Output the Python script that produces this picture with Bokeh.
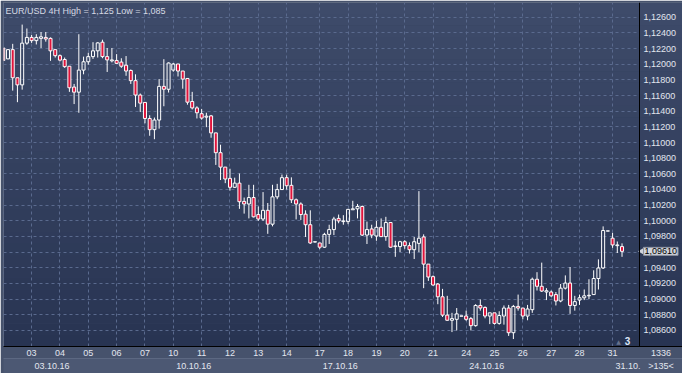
import numpy as np
from bokeh.plotting import figure
from bokeh.models import (Range1d, FixedTicker, BoxAnnotation, Label, Span,
                          ColumnDataSource, LinearAxis)
from bokeh.embed import file_html
from bokeh.resources import INLINE

title_text = "EUR/USD 4H High = 1,125 Low = 1,085"

open_ = [1.12207,1.12068,1.12186,1.11827,1.11736,1.12269,1.12342,1.12301,1.12330,1.12342,
 1.12330,1.12186,1.12109,1.12060,1.11974,1.11708,1.11643,1.11925,1.12031,1.12097,
 1.12171,1.12281,1.12097,1.12043,1.12048,1.12027,1.11987,1.11920,1.11790,1.11606,
 1.11512,1.11307,1.11164,1.11287,1.11717,1.11680,1.11925,1.12003,1.11913,1.11818,
 1.11524,1.11442,1.11368,1.11324,1.11340,1.11123,1.10870,1.10686,1.10542,1.10428,
 1.10481,1.10248,1.10215,1.10297,1.10080,1.10023,1.10134,1.09957,1.10306,1.10399,
 1.10551,1.10453,1.10269,1.10215,1.10085,1.09950,1.09729,1.09717,1.09663,1.09827,
 1.09888,1.10031,1.09990,1.09990,1.10141,1.10153,1.10183,1.09818,1.09896,1.09806,
 1.09917,1.09798,1.09978,1.09671,1.09671,1.09733,1.09683,1.09631,1.09712,1.09794,
 1.09447,1.09287,1.09193,1.09030,1.08796,1.08730,1.08742,1.08782,1.08784,1.08751,
 1.08661,1.08919,1.08894,1.08784,1.08825,1.08690,1.08784,1.08886,1.08571,1.08907,
 1.08886,1.08784,1.08865,1.09254,1.09164,1.09091,1.09091,1.09058,1.08976,1.09140,
 1.09205,1.08919,1.08988,1.09017,1.09042,1.09058,1.09263,1.09398,1.09868,1.09778,
 1.09683,1.09671]

high = [1.12207,1.12190,1.12260,1.11827,1.12506,1.12456,1.12374,1.12383,1.12411,1.12411,
 1.12342,1.12186,1.12125,1.12085,1.11974,1.11748,1.12383,1.12097,1.12146,1.12281,
 1.12281,1.12313,1.12207,1.12207,1.12129,1.12076,1.12104,1.11933,1.11871,1.11626,
 1.11512,1.11348,1.11319,1.11810,1.12064,1.12023,1.12015,1.12003,1.11913,1.11818,
 1.11647,1.11463,1.11429,1.11380,1.11352,1.11123,1.10972,1.10686,1.10665,1.10551,
 1.10604,1.10297,1.10460,1.10460,1.10183,1.10367,1.10227,1.10460,1.10472,1.10591,
 1.10591,1.10555,1.10285,1.10236,1.10134,1.10134,1.09733,1.09717,1.09847,1.09950,
 1.10051,1.10080,1.10072,1.10153,1.10256,1.10215,1.10195,1.09990,1.09950,1.09999,
 1.10031,1.10051,1.09978,1.09745,1.09745,1.09753,1.09724,1.09794,1.10379,1.09827,
 1.09447,1.09303,1.09205,1.09131,1.09042,1.08825,1.08886,1.08786,1.08853,1.08772,
 1.08935,1.08996,1.08907,1.08825,1.08825,1.08845,1.08919,1.08926,1.08926,1.09058,
 1.08886,1.08926,1.09275,1.09344,1.09466,1.09140,1.09110,1.09091,1.09193,1.09303,
 1.09410,1.09042,1.09058,1.09123,1.09254,1.09368,1.09508,1.09929,1.09872,1.09847,
 1.09736,1.09712]

low = [1.12048,1.12064,1.11663,1.11515,1.11675,1.12248,1.12272,1.12252,1.12207,1.12288,
 1.12043,1.12085,1.12036,1.11953,1.11647,1.11491,1.11380,1.11871,1.11994,1.12068,
 1.12085,1.12076,1.11901,1.12023,1.12003,1.11953,1.11852,1.11748,1.11454,1.11389,
 1.11245,1.11086,1.11042,1.11177,1.11463,1.11638,1.11904,1.11843,1.11687,1.11483,
 1.11422,1.11307,1.11291,1.11196,1.11061,1.10714,1.10521,1.10481,1.10386,1.10420,
 1.10153,1.10092,1.10031,1.10043,1.09999,1.09999,1.09834,1.09929,1.10276,1.10399,
 1.10399,1.10227,1.10018,1.10011,1.09794,1.09704,1.09724,1.09638,1.09655,1.09704,
 1.09818,1.09969,1.09950,1.09957,1.10141,1.10031,1.09806,1.09704,1.09778,1.09745,
 1.09794,1.09745,1.09655,1.09540,1.09601,1.09643,1.09582,1.09512,1.09601,1.09140,
 1.09233,1.09172,1.08935,1.08772,1.08723,1.08579,1.08600,1.08782,1.08723,1.08600,
 1.08649,1.08853,1.08755,1.08681,1.08674,1.08674,1.08674,1.08530,1.08490,1.08853,
 1.08742,1.08730,1.08825,1.09110,1.09091,1.08988,1.09030,1.08919,1.08960,1.09123,
 1.08812,1.08853,1.08926,1.08988,1.09000,1.09058,1.09123,1.09385,1.09868,1.09655,
 1.09589,1.09540]

close = [1.12048,1.12186,1.11827,1.11736,1.12269,1.12342,1.12301,1.12342,1.12350,1.12322,
 1.12171,1.12109,1.12052,1.11969,1.11699,1.11643,1.11925,1.12031,1.12097,1.12171,
 1.12272,1.12097,1.12055,1.12055,1.12011,1.11974,1.11913,1.11790,1.11606,1.11503,
 1.11307,1.11164,1.11287,1.11717,1.11680,1.12015,1.12003,1.11913,1.11810,1.11515,
 1.11442,1.11380,1.11312,1.11336,1.11123,1.10870,1.10686,1.10534,1.10428,1.10481,
 1.10244,1.10215,1.10297,1.10051,1.10023,1.10134,1.09957,1.10306,1.10399,1.10551,
 1.10448,1.10269,1.10215,1.10080,1.09950,1.09717,1.09733,1.09663,1.09827,1.09888,
 1.10023,1.09999,1.09999,1.10146,1.10153,1.10183,1.09818,1.09888,1.09818,1.09917,
 1.09798,1.09978,1.09663,1.09680,1.09733,1.09683,1.09631,1.09733,1.09778,1.09447,
 1.09282,1.09180,1.09030,1.08796,1.08730,1.08751,1.08812,1.08786,1.08742,1.08661,
 1.08919,1.08886,1.08784,1.08825,1.08690,1.08791,1.08886,1.08571,1.08907,1.08886,
 1.08784,1.08874,1.09254,1.09164,1.09103,1.09107,1.09042,1.08976,1.09140,1.09205,
 1.08919,1.08968,1.09017,1.09042,1.09049,1.09263,1.09398,1.09876,1.09872,1.09692,
 1.09692,1.09610]

day_tick_idx = [0, 6, 12, 18, 24, 30, 36, 42, 48, 54, 60, 67, 73, 79, 85, 91, 98, 104, 110, 116, 122, 129]
day_labels = ["30", "03", "04", "05", "06", "07", "10", "11", "12", "13", "14",
              "17", "18", "19", "20", "21", "24", "25", "26", "27", "28", "31"]
week_idx = [6, 36, 67, 98, 129]
week_labels = ["03.10.16", "10.10.16", "17.10.16", "24.10.16", "31.10."]
price_ticks = [1.086, 1.088, 1.090, 1.092, 1.094, 1.096, 1.098, 1.100, 1.102, 1.104,
               1.106, 1.108, 1.110, 1.112, 1.114, 1.116, 1.118, 1.120, 1.122, 1.124, 1.126]
price_labels = ["1,08600", "1,08800", "1,09000", "1,09200", "1,09400", "1,09600", "1,09800",
                "1,10000", "1,10200", "1,10400", "1,10600", "1,10800", "1,11000", "1,11200",
                "1,11400", "1,11600", "1,11800", "1,12000", "1,12200", "1,12400", "1,12600"]
last_price_label = "1,09610"
bar_count_label = "1336"
zoom_label = ">135<"
marker_label = "3"

# ---------------- layout ----------------
W, H = 682, 373
ML, MT, MB = 3, 2, 27
COL = 43                      # width of the price-scale column (inside the frame)
x0, x1 = 0.05, 134.7          # candle area
y0, y1 = 1.08395, 1.12788
CW = W - ML - COL             # candle area width in px
FH = H - MT - MB
ux = (x1 - x0) / CW
uy = (y1 - y0) / FH
xe = x1 + COL * ux            # frame right end (price column included)
FONT = "Liberation Sans"
TXT = "#e2e6ef"
BOTTOM_BG = "#46526c"

p = figure(width=W, height=H, x_range=Range1d(x0, xe), y_range=Range1d(y0, y1),
           y_axis_location="right", output_backend="svg", toolbar_location=None,
           min_border_left=ML, min_border_right=0, min_border_top=MT, min_border_bottom=MB,
           background_fill_color="#34405f", border_fill_color=BOTTOM_BG, outline_line_color=None)

# vertical gradient background: candle area (below grid) and price column (above grid)
top_c = np.array([62, 75, 106]); bot_c = np.array([40, 52, 82])
N = 30
bands = []
for i in range(N):
    b = y0 + (y1 - y0) * i / N
    t = y0 + (y1 - y0) * (i + 1) / N
    cc = bot_c + (top_c - bot_c) * (i + 0.5) / N
    bands.append((b, t, "#%02x%02x%02x" % tuple(int(round(v)) for v in cc)))
for b, t, col in bands:
    p.add_layout(BoxAnnotation(bottom=b, top=t, fill_color=col, fill_alpha=1,
                               line_color=None, level="image"))

# grid
p.xgrid.ticker = FixedTicker(ticks=day_tick_idx)
p.ygrid.ticker = FixedTicker(ticks=price_ticks)
for g in (p.xgrid, p.ygrid):
    g.grid_line_color = "#5a6a8e"
    g.grid_line_dash = "3 3"
    g.grid_line_width = 1

for b, t, col in bands:
    p.add_layout(BoxAnnotation(bottom=b, top=t, left=x1, fill_color=col, fill_alpha=1,
                               line_color=None, level="underlay"))

# bottom axes: day row (+ bar count in the corner) and week row (+ zoom in the corner)
corner_x = x1 + COL / 2 * ux
def text_px(s):
    return sum(2.5 if ch in ".,:" else 5.0 for ch in s)
week_pos = [k + (3 + text_px(t) / 2) * ux for k, t in zip(week_idx, week_labels)]

dax = p.xaxis[0]
dax.ticker = FixedTicker(ticks=day_tick_idx + [corner_x])
dax.major_label_overrides = dict(list(zip(day_tick_idx, day_labels)) + [(corner_x, bar_count_label)])
wax = LinearAxis(ticker=FixedTicker(ticks=week_pos + [corner_x]),
                 major_label_overrides=dict(list(zip(week_pos, week_labels)) + [(corner_x, zoom_label)]))
p.add_layout(wax, "below")

# price axis: labels drawn back into the price column
yax = p.yaxis[0]
yax.ticker = FixedTicker(ticks=price_ticks)
yax.major_label_overrides = {k: v for k, v in zip(price_ticks, price_labels)}
yax.axis_line_color = None
yax.major_label_standoff = -(COL - 4)

for ax in (dax, wax, yax):
    ax.major_tick_line_color = None
    ax.minor_tick_line_color = None
    ax.major_tick_out = 0
    ax.major_tick_in = 0
    ax.major_label_text_font = FONT
    ax.major_label_text_font_size = "9px"
    ax.major_label_text_color = TXT
dax.axis_line_color = "black"
wax.axis_line_color = "#5c6882"
dax.major_label_standoff = 3
wax.major_label_standoff = 2
try:
    dax.background_fill_color = BOTTOM_BG
    wax.background_fill_color = "#4c5873"
except AttributeError:
    pass

# separator between chart and price scale
p.add_layout(Span(location=x1, dimension="height", line_color="black", line_width=1))

# candles
o = np.array(open_); h = np.array(high); l = np.array(low); c = np.array(close)
idx = np.arange(len(o))
up = c >= o
btop = np.maximum(o, c); bbot = np.minimum(o, c)
src = ColumnDataSource(dict(x=idx, h=h, l=l, bt=btop, bb=bbot,
                            fill=["#2f3b5a" if u else "#e0143c" for u in up],
                            alpha=[0.0 if u else 1.0 for u in up]))
p.segment(x0="x", y0="h", x1="x", y1="bt", source=src, line_color="white", line_width=1)
p.segment(x0="x", y0="bb", x1="x", y1="l", source=src, line_color="white", line_width=1)
p.vbar(x="x", width=0.64, top="bt", bottom="bb", source=src, fill_color="fill",
       fill_alpha="alpha", line_color="white", line_width=1)

# title
p.add_layout(Label(x=x0, y=y1, x_offset=2, y_offset=-3, text=title_text, text_baseline="top",
                   text_font=FONT, text_font_size="9px", text_color="#d6dae4"))

# bar marker at bottom right of the chart
p.add_layout(Label(x=x1, y=y0, x_offset=-12, y_offset=2, text=marker_label, text_align="center",
                   text_baseline="bottom", text_font=FONT, text_font_size="10px",
                   text_font_style="bold", text_color="#dce6f6"))
p.add_layout(Label(x=x1, y=y0, x_offset=-21, y_offset=2, text="▲", text_align="center",
                   text_baseline="bottom", text_font="DejaVu Sans", text_font_size="6px",
                   text_color="#66718c"))

# last price tag in the price column
p.scatter(x=[x1 + 2.5 * ux], y=[close[-1]], marker="triangle", size=7, angle=np.pi / 2,
          fill_color="#cfd3db", line_color=None)
p.add_layout(Label(x=x1, y=close[-1], x_offset=4, text=last_price_label,
                   text_baseline="middle", text_font=FONT, text_font_size="9px",
                   text_color="black", background_fill_color="#cfd3db",
                   border_line_color="#8d93a0", padding=1))

open("out.html", "w").write(file_html(p, INLINE))
